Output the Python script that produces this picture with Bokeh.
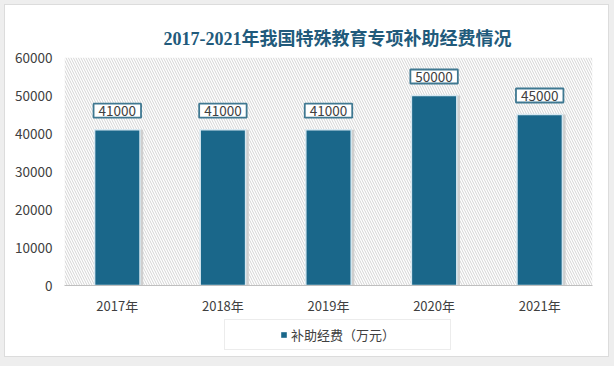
from bokeh.plotting import figure
from bokeh.layouts import column
from bokeh.models import (Range1d, FixedTicker, BoxAnnotation, Label, Legend, LegendItem,
                          ColumnDataSource)
from bokeh.embed import file_html
from bokeh.resources import INLINE

years = ["2017年", "2018年", "2019年", "2020年", "2021年"]
funding = [41000, 41000, 41000, 50000, 45000]
y_ticks = [0, 10000, 20000, 30000, 40000, 50000, 60000]
title_text = "2017-2021年我国特殊教育专项补助经费情况"
series_name = "补助经费（万元）"

BAR = "#1a678a"
xs = list(range(len(years)))
src = ColumnDataSource(dict(x=xs, top=funding, xs=[x + 0.03 for x in xs]))

p = figure(width=614, height=318, output_backend="svg", toolbar_location=None,
           x_range=Range1d(-0.5, len(years) - 0.5), y_range=Range1d(0, 60000),
           min_border_left=64, min_border_right=22, min_border_top=57, min_border_bottom=33)
p.title.text = title_text
p.title.align = "left"
p.title.offset = 99
p.title.standoff = 17
p.title.text_font = "'Liberation Serif', 'Noto Sans CJK SC'"
p.title.text_font_size = "18px"
p.title.text_font_style = "bold"
p.title.text_color = "#215a7b"

p.outline_line_color = None
p.background_fill_color = "white"
p.border_fill_alpha = 0
p.xgrid.visible = False
p.ygrid.visible = False

hatch = BoxAnnotation(fill_color="white", fill_alpha=1, line_color=None,
                      hatch_pattern="\\", hatch_color="#d4d4d4", hatch_scale=5,
                      hatch_weight=1, level="underlay")
p.add_layout(hatch)

# shadow
p.vbar(x="xs", top="top", width=0.43, source=src, fill_color="#cfcfcf", line_color=None)
bars = p.vbar(x="x", top="top", width=0.43, source=src, fill_color=BAR,
              line_color="#d6e7f0", line_width=1.5)

for x, v in zip(xs, funding):
    lab = Label(x=x, y=v, text=str(v), y_offset=19, text_align="center",
                text_baseline="middle", text_font="Noto Sans CJK SC", text_font_size="13.5px",
                text_color="#404040", background_fill_color="white",
                border_line_color="#3f7891", border_line_width=1.8, padding=(5, 2))
    p.add_layout(lab)

xa = p.xaxis[0]
xa.ticker = FixedTicker(ticks=xs)
xa.major_label_overrides = {i: y for i, y in enumerate(years)}
xa.major_tick_line_color = None
xa.major_tick_out = 0
xa.major_tick_in = 0
xa.minor_tick_line_color = None
xa.axis_line_color = "#bfbfbf"
xa.major_label_standoff = 10
xa.major_label_text_font = "Noto Sans CJK SC"
xa.major_label_text_font_size = "13px"
xa.major_label_text_color = "#404040"

ya = p.yaxis[0]
ya.ticker = FixedTicker(ticks=y_ticks)
ya.major_tick_line_color = None
ya.major_tick_out = 0
ya.major_tick_in = 0
ya.minor_tick_line_color = None
ya.axis_line_color = None
ya.major_label_standoff = 12
ya.major_label_text_font = "Noto Sans CJK SC"
ya.major_label_text_font_size = "13.5px"
ya.major_label_text_color = "#404040"

# legend strip below the chart (key glyph sits outside the strip's visible range)
p2 = figure(width=614, height=48, output_backend="svg", toolbar_location=None,
            x_range=Range1d(100, 101), y_range=Range1d(100, 101),
            x_axis_type=None, y_axis_type=None,
            min_border_left=0, min_border_right=0, min_border_top=0, min_border_bottom=0)
p2.outline_line_color = None
p2.background_fill_alpha = 0
p2.border_fill_alpha = 0
p2.xgrid.visible = False
p2.ygrid.visible = False
key = p2.vbar(x=[0], top=[0], width=0.43, fill_color=BAR, line_color=None)

legend = Legend(items=[LegendItem(label=series_name, renderers=[key])],
                location=(160, 16), orientation="horizontal",
                glyph_width=7, glyph_height=7, label_standoff=4,
                label_text_font="Noto Sans CJK SC", label_text_font_size="13px",
                label_text_color="#404040", border_line_color="#d9d9d9",
                background_fill_color="white", margin=0, padding=(55, 5))
p2.add_layout(legend)

layout = column(p, p2, spacing=0,
                styles={"background-color": "white",
                        "box-shadow": "inset -5px -9px 0 0 #eeeeee, inset 4px 4px 0 0 #eeeeee, "
                                      "inset -6px -10px 0 0 #dcdcdc, inset 5px 5px 0 0 #dcdcdc"})

open("out.html", "w").write(file_html(layout, INLINE))
